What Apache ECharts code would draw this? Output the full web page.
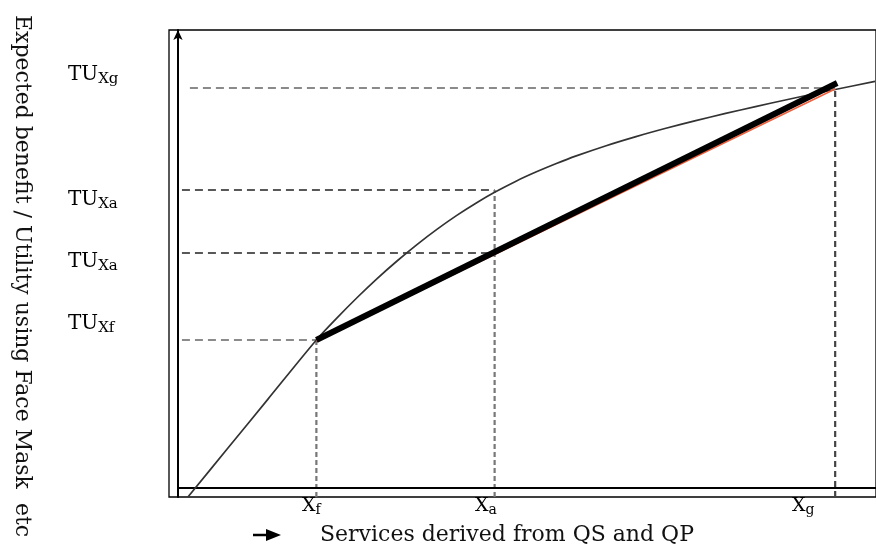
<!DOCTYPE html>
<html><head><meta charset="utf-8">
<script src="https://cdn.jsdelivr.net/npm/echarts@6/dist/echarts.min.js"></script>
<style>html,body{margin:0;padding:0;background:#fff}#c{width:876px;height:548px}</style>
</head><body><div id="c"></div>
<script>
// data units: x = services (0 at the y-axis), y = utility (0 at the x-axis)
const curveX = [10, 50, 90, 139, 160, 180, 200, 220, 240, 260, 280, 300, 318, 340, 360, 380, 400, 430, 460, 490, 520, 550, 580, 610, 640, 660, 700];
const curveY = [-9, 39.7, 88.4, 148, 170.4, 190.5, 209.4, 227, 243.4, 258.6, 272.6, 285.3, 295.7, 307.1, 316.2, 324.5, 332.1, 342.3, 351.4, 359.7, 367.4, 374.6, 381.4, 388, 394.4, 398.5, 406.6];
const xCats = ['f', 'a', 'g'];            // X subscripts
const xVals = [139, 318, 660];            // Xf, Xa, Xg
const yCats = ['Xg', 'Xa', 'Xa', 'Xf'];   // TU subscripts
const yVals = [400, 298, 235, 148];       // TUXg, TUXa, TUXa, TUXf
const guideStart = [12, 4, 4, 4];         // where horizontal guides start
const guideEnd = [660, 318, 318, 139];    // where horizontal guides end
const chord = [[139, 148], [662, 405]];
const chordRed = [[139, 147], [660, 399]];
const yTitle = 'Expected benefit / Utility using Face Mask  etc';
const xTitle = 'Services derived from QS and QP';

const serif = 'DejaVu Serif';
const chart = echarts.init(document.getElementById('c'));
const series = [];
const hStyles = [
  {color: '#8a8a8a', width: 2, type: [8, 5]},
  {color: '#222', width: 1.3, type: [8, 5]},
  {color: '#222', width: 1.3, type: [8, 5]},
  {color: '#666', width: 1.6, type: [8, 5]}
];
yVals.forEach((v, i) => {
  series.push({type: 'line', data: [[guideStart[i], v], [guideEnd[i], v]], symbol: 'none',
    lineStyle: hStyles[i], silent: true, z: 1});
});
const vStyles = [
  {color: '#777', width: 2.2, type: [5, 3]},
  {color: '#777', width: 2.2, type: [5, 3]},
  {color: '#444', width: 2.2, type: [6, 4]}
];
const vTop = [148, 298, 400];
xVals.forEach((v, i) => {
  series.push({type: 'line', data: [[v, -9], [v, vTop[i]]], symbol: 'none',
    lineStyle: vStyles[i], silent: true, z: 1});
});
// x-axis baseline
series.push({type: 'line', data: [[0, 0], [702, 0]], symbol: 'none',
  lineStyle: {color: '#000', width: 2}, z: 2});
// utility curve
series.push({type: 'line', data: curveX.map((x, i) => [x, curveY[i]]), smooth: 0.3,
  symbol: 'none', lineStyle: {color: '#333', width: 1.7}, z: 3});
series.push({type: 'line', data: chordRed, symbol: 'none', lineStyle: {color: '#f2603c', width: 1.6}, z: 4});
series.push({type: 'line', data: chord, symbol: 'none', lineStyle: {color: '#000', width: 6, cap: 'butt'}, z: 5});

const rich = {
  m: {fontFamily: serif, fontSize: 20, lineHeight: 24, color: '#000'},
  s: {fontFamily: serif, fontSize: 15, lineHeight: 14, verticalAlign: 'bottom', color: '#000'},
  mx: {fontFamily: serif, fontSize: 19, lineHeight: 22, color: '#000'},
  sx: {fontFamily: serif, fontSize: 14, lineHeight: 12, verticalAlign: 'bottom', color: '#000'}
};
const yLabelTop = [65, 190, 252, 314];
const xLabelLeft = [302, 475, 792];
const graphic = [];
yCats.forEach((c, i) => graphic.push({type: 'text', left: 68, top: yLabelTop[i],
  style: {text: '{m|TU}{s|' + c + '}', rich: rich}}));
xCats.forEach((c, i) => graphic.push({type: 'text', left: xLabelLeft[i], top: 497,
  style: {text: '{mx|X}{sx|' + c + '}', rich: rich}}));
graphic.push({type: 'text', x: 22, y: 276, rotation: -Math.PI / 2,
  style: {text: yTitle, fontFamily: serif, fontSize: 22, fill: '#111', align: 'center', verticalAlign: 'middle'}});
graphic.push({type: 'text', x: 320, y: 535,
  style: {text: xTitle, fontFamily: serif, fontSize: 22, fill: '#111', align: 'left', verticalAlign: 'middle'}});
graphic.push({type: 'line', shape: {x1: 253, y1: 535, x2: 269, y2: 535}, style: {stroke: '#000', lineWidth: 2.5}});
graphic.push({type: 'polygon', shape: {points: [[266, 529], [281, 535], [266, 541]]}, style: {fill: '#000'}});

chart.setOption({
  animation: false,
  backgroundColor: '#fff',
  grid: {left: 169, right: -3, top: 30, bottom: 51, show: true, borderColor: '#000', borderWidth: 1.3},
  xAxis: {type: 'value', min: -9, max: 701, show: true, splitLine: {show: false},
    axisLine: {show: false}, axisTick: {show: false}, axisLabel: {show: false}},
  yAxis: {type: 'value', min: -9, max: 458, splitLine: {show: false},
    axisLine: {show: true, onZero: true, symbol: ['none', 'arrow'], symbolSize: [7, 10],
      lineStyle: {color: '#000', width: 2}},
    axisTick: {show: false}, axisLabel: {show: false}},
  series: series,
  graphic: graphic
});
</script></body></html>
